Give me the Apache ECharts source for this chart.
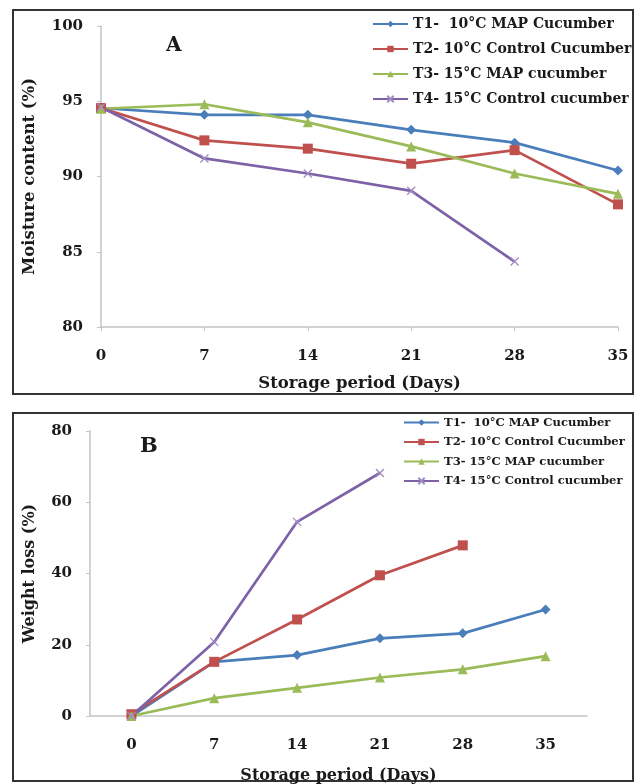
<!DOCTYPE html>
<html>
<head>
<meta charset="utf-8">
<script src="https://cdn.jsdelivr.net/npm/echarts@6/dist/echarts.min.js"></script>
<style>
  html, body { margin: 0; padding: 0; background: #fff; }
  #chartDom { width: 637px; height: 784px; }
</style>
</head>
<body>
<div id="chartDom"></div>
<script>
// storage days (category axis)
var days = ['0', '7', '14', '21', '28', '35'];
var names = ['T1-  10°C MAP Cucumber', 'T2- 10°C Control Cucumber', 'T3- 15°C MAP cucumber', 'T4- 15°C Control cucumber'];
var colors = ['#4a7ebb', '#c0504d', '#9bbb59', '#7e62a8'];

// panel A - moisture content (%)
var moistT1 = [94.55, 94.1, 94.1, 93.1, 92.25, 90.4];
var moistT2 = [94.55, 92.4, 91.85, 90.85, 91.75, 88.15];
var moistT3 = [94.5, 94.8, 93.6, 92.0, 90.2, 88.85];
var moistT4 = [94.6, 91.2, 90.2, 89.05, 84.35];

// panel B - weight loss (%)
var lossT1 = [0, 15.2, 17.1, 21.8, 23.2, 29.9];
var lossT2 = [0.5, 15.2, 27.1, 39.5, 47.9];
var lossT3 = [0, 5.0, 7.9, 10.8, 13.1, 16.8];
var lossT4 = [0, 20.8, 54.5, 68.2];

var font = '"DejaVu Serif", "Liberation Serif", serif';
var txt = '#1a1a1a';
var symbols = ['diamond', 'rect', 'triangle', 'path://M0,0L10,10M10,0L0,10'];
var sizes = [10, 10, 10, 8];

var myChart = echarts.init(document.getElementById('chartDom'));

function mkSeries(name, idx, data, grid) {
    return {
        name: name,
        type: 'line',
        xAxisIndex: grid,
        yAxisIndex: grid,
        data: data,
        symbol: symbols[idx],
        symbolSize: sizes[idx],
        showAllSymbol: true,
        color: colors[idx],
        lineStyle: { width: 2.7, color: colors[idx] },
        itemStyle: idx == 3
            ? { color: colors[idx], borderColor: '#a08cc4', borderWidth: 1.3 }
            : { color: colors[idx] },
        animation: false
    };
}

function axisBase() {
    return {
        axisLine: { lineStyle: { color: '#c4c4c4', width: 1.5 } },
        axisTick: { lineStyle: { color: '#c4c4c4' }, length: 4 },
        splitLine: { show: false },
        axisLabel: { color: txt, fontFamily: font, fontWeight: 'bold', fontSize: 15 },
        nameTextStyle: { color: txt, fontFamily: font, fontWeight: 'bold', fontSize: 16 }
    };
}

function legendOf(left, top, fs, gap, lh) {
    return {
        data: names,
        orient: 'vertical',
        left: left,
        top: top,
        padding: 0,
        itemWidth: 35,
        itemHeight: 8,
        itemGap: gap,
        textStyle: { color: txt, fontFamily: font, fontWeight: 'bold', fontSize: fs, lineHeight: lh }
    };
}

var xA = Object.assign(axisBase(), {
    type: 'category', gridIndex: 0, data: days, boundaryGap: false,
    name: 'Storage period (Days)', nameLocation: 'middle', nameGap: 48
});
xA.axisLabel.margin = 22;
xA.axisTick.alignWithLabel = true;
xA.nameTextStyle.fontSize = 16.5;

var yA = Object.assign(axisBase(), {
    type: 'value', gridIndex: 0, min: 80, max: 100, interval: 5,
    name: 'Moisture content (%)', nameLocation: 'middle', nameGap: 63
});
yA.axisLine.show = true;
yA.axisTick.show = true;
yA.axisLabel.margin = 18;
yA.nameTextStyle.fontSize = 16.5;

var xB = Object.assign(axisBase(), {
    type: 'category', gridIndex: 1, data: days, boundaryGap: true,
    name: 'Storage period (Days)', nameLocation: 'middle', nameGap: 52
});
xB.axisLabel.margin = 22;

var yB = Object.assign(axisBase(), {
    type: 'value', gridIndex: 1, min: 0, max: 80, interval: 20,
    name: 'Weight loss (%)', nameLocation: 'middle', nameGap: 52
});
yB.axisLine.show = true;
yB.axisTick.show = true;
yB.axisLabel.margin = 18;

option = {
    backgroundColor: '#fff',
    animation: false,
    grid: [
        { left: 101, top: 26, width: 517, height: 301, outerBoundsMode: 'none' },
        { left: 90, top: 431, width: 497, height: 285, outerBoundsMode: 'none' }
    ],
    title: [
        { text: 'A', left: 166, top: 36, padding: 0, textStyle: { fontFamily: font, fontWeight: 'bold', fontSize: 20, color: txt } },
        { text: 'B', left: 140, top: 436, padding: 0, textStyle: { fontFamily: font, fontWeight: 'bold', fontSize: 21, color: txt } }
    ],
    legend: [
        legendOf(372, 16, 14, 9, 16),
        legendOf(403, 416, 11.6, 6.5, 13)
    ],
    xAxis: [xA, xB],
    yAxis: [yA, yB],
    graphic: [
        { type: 'rect', shape: { x: 13, y: 10, width: 620, height: 384 }, style: { fill: 'none', stroke: '#333', lineWidth: 2 }, silent: true },
        { type: 'rect', shape: { x: 13, y: 413, width: 620, height: 368 }, style: { fill: 'none', stroke: '#333', lineWidth: 2 }, silent: true }
    ],
    series: [
        mkSeries(names[0], 0, moistT1, 0),
        mkSeries(names[1], 1, moistT2, 0),
        mkSeries(names[2], 2, moistT3, 0),
        mkSeries(names[3], 3, moistT4, 0),
        mkSeries(names[0], 0, lossT1, 1),
        mkSeries(names[1], 1, lossT2, 1),
        mkSeries(names[2], 2, lossT3, 1),
        mkSeries(names[3], 3, lossT4, 1)
    ]
};

myChart.setOption(option);
</script>
</body>
</html>
